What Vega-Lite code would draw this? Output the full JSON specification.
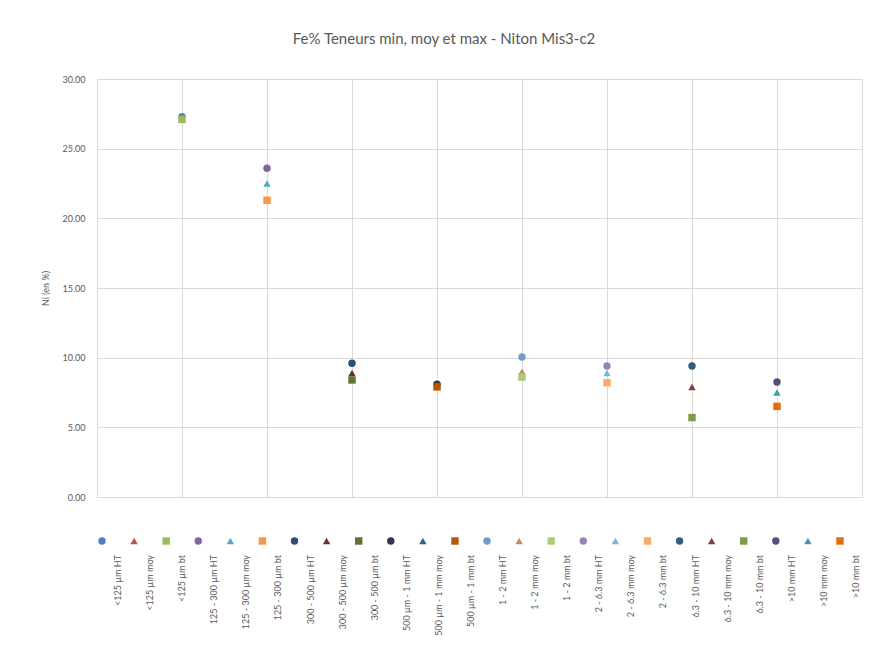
{
  "$schema": "https://vega.github.io/schema/vega-lite/v6.json",
  "background": "white",
  "padding": {"left": 41, "top": 32, "right": 2, "bottom": 5},
  "title": {"text": "Fe% Teneurs min, moy et max - Niton Mis3-c2", "fontSize": 15, "font": "Lato", "fontWeight": "normal", "color": "#595959", "anchor": "middle", "offset": 28, "dx": -8},
  "config": {"font": "Lato", "view": {"stroke": null}, "concat": {"spacing": 29}},
  "data": {"values": [
    {"series": "<125 µm HT", "cat": 1, "stat": "HT", "value": 27.3},
    {"series": "<125 µm moy", "cat": 1, "stat": "moy", "value": 27.2},
    {"series": "<125 µm bt", "cat": 1, "stat": "bt", "value": 27.1},
    {"series": "125 - 300 µm HT", "cat": 2, "stat": "HT", "value": 23.6},
    {"series": "125 - 300 µm moy", "cat": 2, "stat": "moy", "value": 22.5},
    {"series": "125 - 300 µm bt", "cat": 2, "stat": "bt", "value": 21.3},
    {"series": "300 - 500 µm HT", "cat": 3, "stat": "HT", "value": 9.6},
    {"series": "300 - 500 µm moy", "cat": 3, "stat": "moy", "value": 8.9},
    {"series": "300 - 500 µm bt", "cat": 3, "stat": "bt", "value": 8.4},
    {"series": "500 µm - 1 mm HT", "cat": 4, "stat": "HT", "value": 8.1},
    {"series": "500 µm - 1 mm moy", "cat": 4, "stat": "moy", "value": 8.0},
    {"series": "500 µm - 1 mm bt", "cat": 4, "stat": "bt", "value": 7.9},
    {"series": "1 - 2 mm HT", "cat": 5, "stat": "HT", "value": 10.05},
    {"series": "1 - 2 mm moy", "cat": 5, "stat": "moy", "value": 9.0},
    {"series": "1 - 2 mm bt", "cat": 5, "stat": "bt", "value": 8.6},
    {"series": "2 - 6.3 mm HT", "cat": 6, "stat": "HT", "value": 9.4},
    {"series": "2 - 6.3 mm moy", "cat": 6, "stat": "moy", "value": 8.9},
    {"series": "2 - 6.3 mm bt", "cat": 6, "stat": "bt", "value": 8.2},
    {"series": "6.3 - 10 mm HT", "cat": 7, "stat": "HT", "value": 9.4},
    {"series": "6.3 - 10 mm moy", "cat": 7, "stat": "moy", "value": 7.9},
    {"series": "6.3 - 10 mm bt", "cat": 7, "stat": "bt", "value": 5.7},
    {"series": ">10 mm HT", "cat": 8, "stat": "HT", "value": 8.25},
    {"series": ">10 mm moy", "cat": 8, "stat": "moy", "value": 7.5},
    {"series": ">10 mm bt", "cat": 8, "stat": "bt", "value": 6.5}
  ]},
  "vconcat": [
    {
      "width": 765,
      "height": 418,
      "mark": {"type": "point", "filled": true, "size": 55, "opacity": 1},
      "encoding": {
        "x": {"field": "cat", "type": "quantitative", "scale": {"domain": [0, 9], "nice": false},
          "axis": {"values": [0, 1, 2, 3, 4, 5, 6, 7, 8, 9], "labels": false, "ticks": false, "domain": false, "title": null, "gridColor": "#D9D9D9"}},
        "y": {"field": "value", "type": "quantitative", "scale": {"domain": [0, 30], "nice": false},
          "axis": {"values": [0, 5, 10, 15, 20, 25, 30], "format": ".2f", "title": "Ni (en %)", "domain": false, "ticks": false, "labelPadding": 12, "labelFontSize": 9, "labelColor": "#595959", "titleFontSize": 9, "titleFontWeight": "normal", "titleColor": "#595959", "gridColor": "#D9D9D9", "titlePadding": 11}},
        "color": {"field": "series", "type": "nominal", "legend": null,
          "scale": {"domain": ["<125 µm HT", "<125 µm moy", "<125 µm bt", "125 - 300 µm HT", "125 - 300 µm moy", "125 - 300 µm bt", "300 - 500 µm HT", "300 - 500 µm moy", "300 - 500 µm bt", "500 µm - 1 mm HT", "500 µm - 1 mm moy", "500 µm - 1 mm bt", "1 - 2 mm HT", "1 - 2 mm moy", "1 - 2 mm bt", "2 - 6.3 mm HT", "2 - 6.3 mm moy", "2 - 6.3 mm bt", "6.3 - 10 mm HT", "6.3 - 10 mm moy", "6.3 - 10 mm bt", ">10 mm HT", ">10 mm moy", ">10 mm bt"],
            "range": ["#4F81BD", "#C0504D", "#9BBB59", "#8064A2", "#4BACC6", "#F79646", "#2C4D75", "#772C2A", "#5F7530", "#3B3050", "#276A7C", "#B65708", "#729ACA", "#C98A5E", "#AFC97A", "#9983B5", "#6FBDD1", "#F9AB6B", "#2F5F7F", "#8B3A38", "#7F9A48", "#5F4B7B", "#3C9AB2", "#E46C0A"]}},
        "shape": {"field": "stat", "type": "nominal", "legend": null,
          "scale": {"domain": ["HT", "moy", "bt"], "range": ["circle", "triangle-up", "square"]}}
      }
    },
    {
      "width": 748,
      "height": 20,
      "layer": [
        {
          "mark": {"type": "point", "filled": true, "size": 55, "opacity": 1},
          "encoding": {
            "x": {"field": "series", "type": "nominal", "sort": null, "scale": {"type": "point", "padding": 0.156}, "axis": null},
            "color": {"field": "series", "type": "nominal", "legend": null},
            "shape": {"field": "stat", "type": "nominal", "legend": null}
          }
        },
        {
          "mark": {"type": "text", "angle": 270, "align": "right", "baseline": "middle", "xOffset": 16, "yOffset": 14, "fontSize": 9, "color": "#595959"},
          "encoding": {
            "x": {"field": "series", "type": "nominal", "sort": null, "scale": {"type": "point", "padding": 0.156}, "axis": null},
            "text": {"field": "series"}
          }
        }
      ]
    }
  ]
}
